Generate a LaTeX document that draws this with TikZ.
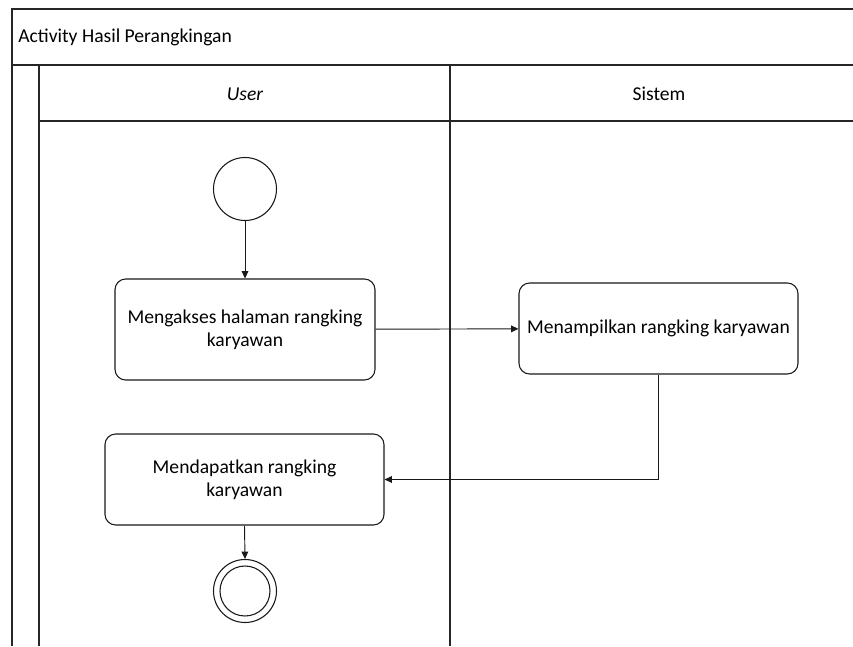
\documentclass[tikz,border=0pt]{standalone}
\usepackage{fontspec}
\setmainfont{Carlito}
\usetikzlibrary{arrows.meta}
\begin{document}
\begin{tikzpicture}[x=0.75pt,y=-0.75pt,
  frame/.style={draw=black!85,line width=0.8pt},
  act/.style={draw=black!90,line width=0.8pt,rounded corners=8pt,align=center,font=\fontsize{14.7}{17.4}\selectfont,inner sep=0pt},
  flow/.style={draw=black!90,line width=0.7pt,-{Triangle[length=5.5pt,width=5pt]}},
  startnode/.style={circle,draw=black!90,line width=0.8pt,minimum size=47.25pt,inner sep=0pt},
  lbl/.style={font=\fontsize{14.7}{17.4}\selectfont,inner sep=0pt}]
\useasboundingbox (0,0) rectangle (853,646);
% frame
\draw[frame] (12,646) -- (12,9) -- (853,9);
\draw[frame] (12,65) -- (853,65);
\draw[frame] (39,65) -- (39,646);
\draw[frame] (39,121) -- (853,121);
\draw[frame] (450,65) -- (450,646);
\node[lbl,anchor=west] (title) at (18,37) {Activity Hasil Perangkingan};
\node[lbl] (user) at (245,94) {\itshape User};
\node[lbl] (sistem) at (659,94) {Sistem};
% nodes
\node[startnode] (start) at (245,189) {};
\node[act,minimum width=195pt,minimum height=75.75pt] (b1) at (245,329.5) {Mengakses halaman rangking\\karyawan};
\node[act,minimum width=209.25pt,minimum height=68.25pt] (b2) at (658.5,328.5) {Menampilkan rangking karyawan};
\node[act,minimum width=209.25pt,minimum height=68.25pt] (b3) at (244.5,479.5) {Mendapatkan rangking\\karyawan};
\node[startnode] (end) at (245,591) {};
\draw[black!90,line width=0.8pt] (end.center) circle (18.75pt);
\coordinate (c1) at (b2.south |- b3.east);
% connectors
\draw[flow] (start) -- (b1);
\draw[flow] (b1) -- (b2);
\draw[flow] (b2.south) -- (c1) -- (b3.east);
\draw[flow] (b3.south) -- (end.north);
\end{tikzpicture}
\end{document}
